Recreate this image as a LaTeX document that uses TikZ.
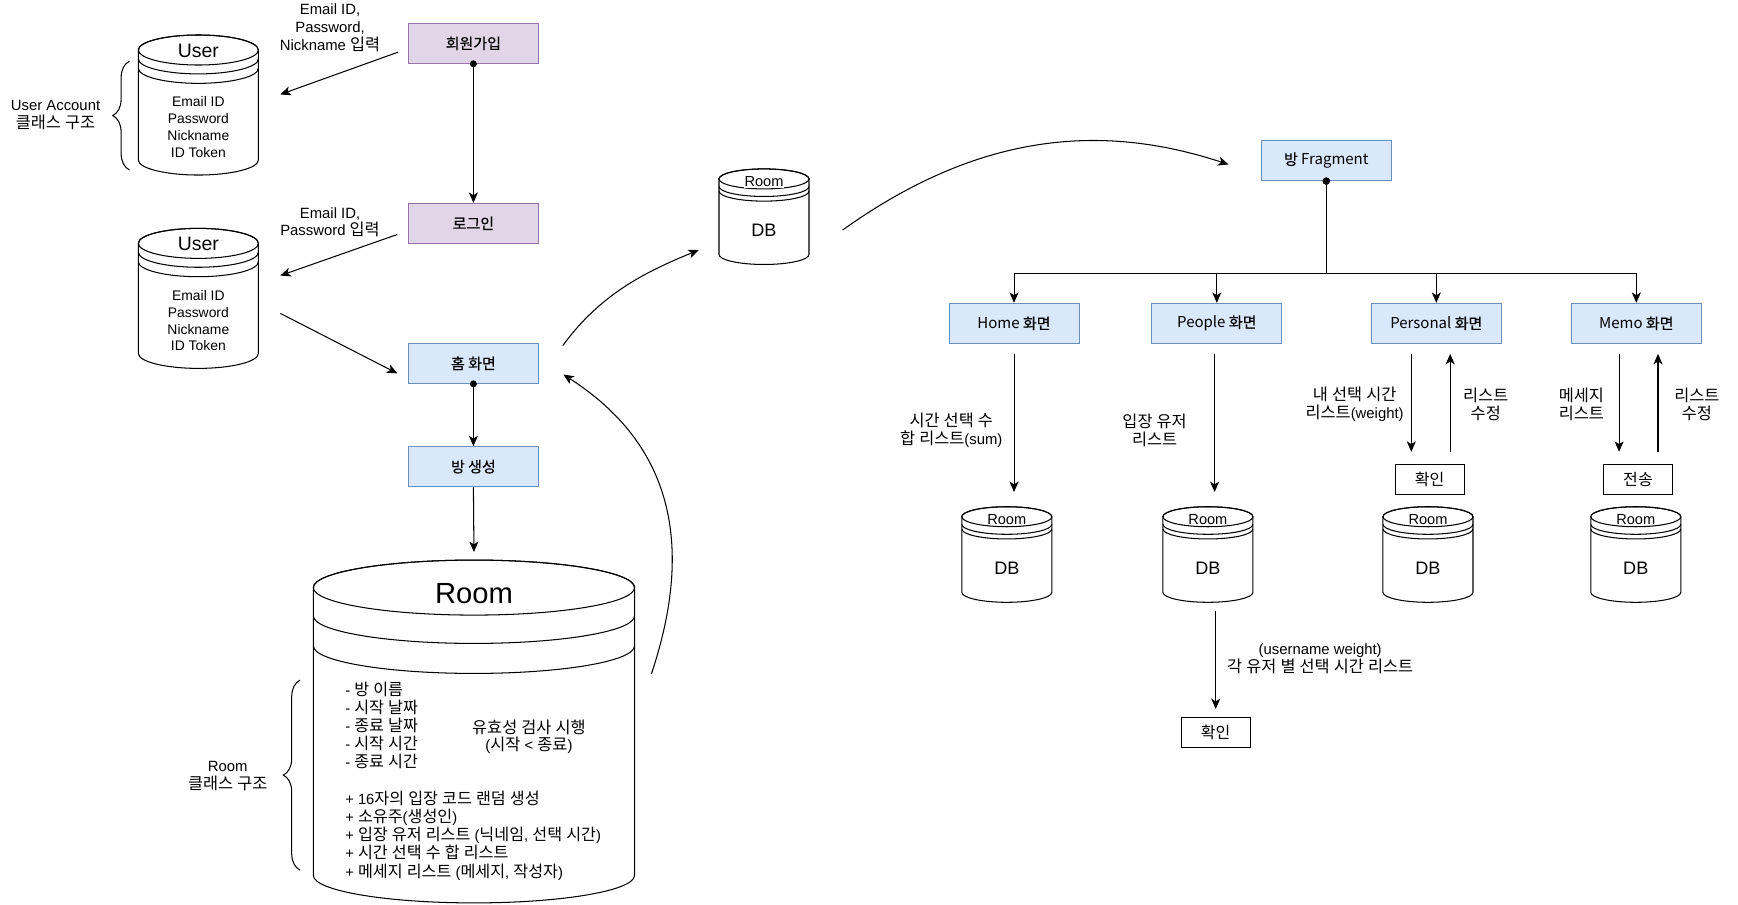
\documentclass[tikz,border=0pt]{standalone}
\usepackage{fontspec}
\setmainfont{Liberation Sans}
\newfontfamily\krlabel[Scale=1.1]{Noto Sans CJK KR}
\newfontfamily\krbox[FakeBold=0.6]{Noto Sans CJK KR}
\newfontfamily\boxfont{Noto Sans CJK KR}
\let\krcurrent\krlabel
\usetikzlibrary{arrows.meta,calc,fit,decorations.pathreplacing}

% hangul syllables are set in the korean font
\XeTeXinterchartokenstate=1
\newXeTeXintercharclass\hangulclass
\makeatletter
\count@="AC00
\loop
  \XeTeXcharclass\count@=\hangulclass
  \advance\count@ by 1
\ifnum\count@<"D7A4 \repeat
\makeatother
\XeTeXinterchartoks 0 \hangulclass = {\begingroup\krcurrent}
\XeTeXinterchartoks 4095 \hangulclass = {\begingroup\krcurrent}
\XeTeXinterchartoks \hangulclass 0 = {\endgroup}
\XeTeXinterchartoks \hangulclass 4095 = {\endgroup}

\definecolor{signfill}{HTML}{E1D5E7}
\definecolor{signline}{HTML}{9673A6}
\definecolor{scrfill}{HTML}{DAE8FC}
\definecolor{scrline}{HTML}{6C8EBF}

\tikzset{
  purplebox/.style={draw=signline, fill=signfill, line width=0.75pt, minimum width=93.6pt, minimum height=28.8pt, inner sep=0pt, font=\boxfont\let\krcurrent\krbox\fontsize{10.8}{13}\selectfont},
  bluebox/.style={purplebox, draw=scrline, fill=scrfill},
  okbox/.style={draw, line width=0.75pt, minimum width=49.6pt, minimum height=21.6pt, inner sep=0pt, font=\fontsize{10.5}{12}\selectfont},
  note/.style={align=center, inner sep=0pt, font=\fontsize{10.7}{12.8}\selectfont},
  dbname/.style={fill=white, inner sep=0.6pt, font=\fontsize{10.5}{12}\selectfont},
  dbtext/.style={font=\fontsize{13}{15}\selectfont},
  flow/.style={line width=0.75pt, -{Stealth[length=7.5pt,width=6.5pt,inset=2pt]}},
  dotflow/.style={line width=0.75pt, {Circle[length=5pt]}-{Stealth[length=7.5pt,width=6.5pt,inset=2pt]}, shorten <=-2.5pt},
  bracket/.style={line width=0.75pt, decorate, decoration={brace, amplitude=12pt}}
}

% name, cx, top, bottom, rx, ry, stripe 1, stripe 2
\newcommand{\storecyl}[8]{%
  \filldraw[fill=white, line width=0.75pt] (#2-#5,#3+#6) -- (#2-#5,#4-#6)
    arc[start angle=180, end angle=0, x radius=#5, y radius=#6]
    -- (#2+#5,#3+#6)
    arc[start angle=0, end angle=-180, x radius=#5, y radius=#6] -- cycle;
  \draw[line width=0.75pt] (#2,#3+#6) ellipse[x radius=#5, y radius=#6];
  \draw[line width=0.75pt] (#2-#5,#3+#6+#7) arc[start angle=180, end angle=0, x radius=#5, y radius=#6];
  \draw[line width=0.75pt] (#2-#5,#3+#6+#8) arc[start angle=180, end angle=0, x radius=#5, y radius=#6];
  \node[fit={(#2-#5,#3) (#2+#5,#4)}, inner sep=0pt] (#1) {};
}

\begin{document}
\begin{tikzpicture}[x=0.8pt, y=-0.8pt]
\useasboundingbox (0,0) rectangle (1564,813.5);

% stores
\storecyl{user1}{178.5}{31.5}{157.5}{54}{13.5}{8}{16.5}
\storecyl{user2}{178.5}{205.5}{331.5}{54}{13.5}{8}{16.5}
\storecyl{room}{426.5}{504}{812.5}{144.5}{24.75}{25.5}{52.5}
\storecyl{roomdb}{687.5}{152}{238}{40.5}{9}{6.8}{11}
\storecyl{homedb}{906}{456}{542}{40.5}{9}{6.8}{11}
\storecyl{peopledb}{1087}{456}{542}{40.5}{9}{6.8}{11}
\storecyl{personaldb}{1285}{456}{542}{40.5}{9}{6.8}{11}
\storecyl{memodb}{1472}{456}{542}{40.5}{9}{6.8}{11}

\node[font=\fontsize{14}{16}\selectfont] (user1title) at (178.5,45.5) {User};
\node[note, font=\fontsize{10}{12.2}\selectfont] (user1txt) at (178.5,114.5) {Email ID\\Password\\Nickname\\ID Token};
\node[font=\fontsize{14}{16}\selectfont] (user2title) at (178.5,219.5) {User};
\node[note, font=\fontsize{10}{12.2}\selectfont] (user2txt) at (178.5,288.5) {Email ID\\Password\\Nickname\\ID Token};

\node[font=\fontsize{21}{24}\selectfont] (roomtitle) at (426.5,534) {Room};
\node[anchor=west, align=left, inner sep=0pt, font=\fontsize{10.6}{13.1}\selectfont] (roomtxt) at (310.5,702.75) {- 방 이름\\- 시작 날짜\\- 종료 날짜\\- 시작 시간\\- 종료 시간\\[13.1pt]+ 16자의 입장 코드 랜덤 생성\\+ 소유주(생성인)\\+ 입장 유저 리스트 (닉네임, 선택 시간)\\+ 시간 선택 수 합 리스트\\+ 메세지 리스트 (메세지, 작성자)};
\node[note] (checktxt) at (476,663) {유효성 검사 시행\\(시작 < 종료)};

\node[dbname] (roomdbname) at (687.5,163.5) {Room};
\node[dbtext] (roomdbtxt) at (687.5,207) {DB};
\foreach \db/\cx in {homedb/906, peopledb/1087, personaldb/1285, memodb/1472} {
  \node[dbname] (\db name) at (\cx,467.5) {Room};
  \node[dbtext] (\db txt) at (\cx,511) {DB};
}

% boxes
\node[purplebox] (signup) at (426,39) {회원가입};
\node[purplebox] (login) at (426,201) {로그인};
\node[bluebox] (home) at (426,327) {홈 화면};
\node[bluebox] (mkroom) at (426,420) {방 생성};
\node[bluebox] (frag) at (1193.5,144.5) {방 Fragment};
\node[bluebox] (homescr) at (912.5,291) {Home 화면};
\node[bluebox] (peoplescr) at (1095,291) {People 화면};
\node[bluebox] (personalscr) at (1292.5,291) {Personal 화면};
\node[bluebox] (memoscr) at (1472.5,291) {Memo 화면};
\node[okbox] (okpersonal) at (1286.5,431.5) {확인};
\node[okbox] (sendmemo) at (1474,431.5) {전송};
\node[okbox] (okpeople) at (1094,659) {확인};

% class notes
\draw[bracket] (116.5,153) -- (116.5,55);
\node[note] (useracc) at (50,103.5) {User Account\\클래스 구조};
\draw[bracket] (270,783) -- (270,612);
\node[note] (roomcls) at (205,698) {Room\\클래스 구조};

% labels
\node[note] (signuptxt) at (297,25) {Email ID,\\Password,\\Nickname 입력};
\node[note] (logintxt) at (297,200) {Email ID,\\Password 입력};
\node[note] (homelbl) at (856,387) {시간 선택 수\\합 리스트(sum)};
\node[note] (peoplelbl) at (1039,387) {입장 유저\\리스트};
\node[note] (personallbl) at (1219,364) {내 선택 시간\\리스트(weight)};
\node[note] (personalup) at (1337,364) {리스트\\수정};
\node[note] (memolbl) at (1423,364) {메세지\\리스트};
\node[note] (memoup) at (1527,364) {리스트\\수정};
\node[note] (weightlbl) at (1188,593) {(username weight)\\각 유저 별 선택 시간 리스트};

% left flow
\draw[flow] ($(signup.west)+(-9,8)$) -- ($(user1.east)+(19.5,-9.5)$);
\draw[flow] ($(login.west)+(-9.5,10)$) -- ($(user2.east)+(19.5,-20.5)$);
\draw[flow] ($(user2.east)+(19.5,13.5)$) -- ($(home.west)+(-9.5,9)$);
\draw[dotflow] (signup.south) -- (login.north);
\draw[dotflow] (home.south) -- (mkroom.north);
\draw[flow] (mkroom.south) -- ($(room.north)+(0,-7)$);
\draw[flow] ($(room.east)+(15,-52)$) .. controls (625,490) and (605,400) .. ($(home.east)+(22,10)$);
\draw[flow] ($(home.east)+(21.5,-16)$) .. controls (540,265) and (580,245) .. ($(roomdb.west)+(-18,30)$);
\draw[flow] ($(roomdb.east)+(30,12)$) .. controls (880,120) and (990,110) .. ($(frag.west)+(-29,3.5)$);

% fragment tree
\coordinate (fragjoint) at (1193.5,246);
\foreach \scr in {homescr, peoplescr, personalscr, memoscr}
  \draw[dotflow] (frag.south) -- (fragjoint) -| (\scr.north);

\draw[flow] ($(homescr.south)+(0,9)$) -- ($(homescr.south |- homedb.north)+(0,-13)$);
\draw[flow] ($(peoplescr.south)+(-2,9)$) -- ($(peoplescr.south |- peopledb.north)+(-2,-13)$);
\draw[flow] ($(okpeople.north |- peopledb.south)+(0,8)$) -- ($(okpeople.north)+(0,-7)$);
\draw[flow] ($(personalscr.south)+(-22.5,9)$) -- ($(personalscr.south |- okpersonal.north)+(-22.5,-11)$);
\draw[flow] ($(personalscr.south |- okpersonal.north)+(12.5,-11)$) -- ($(personalscr.south)+(12.5,9)$);
\draw[flow] ($(memoscr.south)+(-15.5,9)$) -- ($(memoscr.south |- sendmemo.north)+(-15.5,-11)$);
\draw[flow] ($(memoscr.south |- sendmemo.north)+(19.5,-11)$) -- ($(memoscr.south)+(19.5,9)$);
\end{tikzpicture}
\end{document}
